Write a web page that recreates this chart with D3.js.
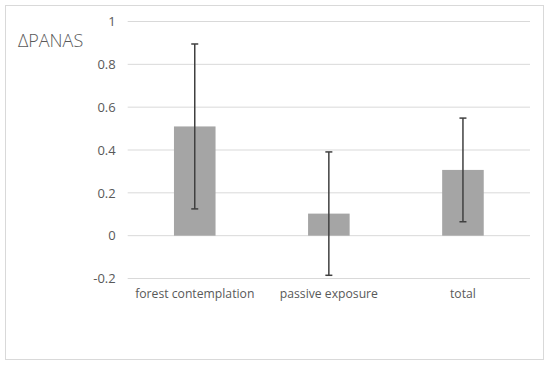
<!DOCTYPE html>
<html>
<head>
<meta charset="utf-8">
<script src="https://cdn.jsdelivr.net/npm/d3@7"></script>
<style>
body { margin: 0; background: #fff; }
svg text { font-family: "Open Sans", sans-serif; fill: #595959; }
</style>
</head>
<body>
<svg></svg>
<script>
// data
const categories = ['forest contemplation', 'passive exposure', 'total'];
const means = [0.51, 0.103, 0.307];
const errors = [0.385, 0.288, 0.242];
const yTicks = [-0.2, 0, 0.2, 0.4, 0.6, 0.8, 1];

const WIDTH = 550;
const HEIGHT = 365;
const MARGIN = { top: 21.5, right: 20, bottom: 86.5, left: 127.7 };

const svg = d3.select('svg')
.attr('width', WIDTH)
.attr('height', HEIGHT);

//border
svg.append('rect')
.attr('x', 5.5)
.attr('y', 5.5)
.attr('width', 538)
.attr('height', 354)
.attr('fill', 'none')
.attr('stroke', '#d9d9d9');

const chart = svg.append('g')
.attr('transform', `translate(${MARGIN.left}, ${MARGIN.top})`);

const innerW = 530 - MARGIN.left;
const innerH = HEIGHT - MARGIN.top - MARGIN.bottom;

//scales
const xScale = d3.scaleBand().domain(categories).range([0, innerW]);
const yScale = d3.scaleLinear().domain([-0.2, 1]).range([innerH, 0]);
const barW = xScale.bandwidth() * 0.31;

//gridlines
chart.selectAll('.grid')
.data(yTicks)
.enter()
.append('line')
.classed('grid', true)
.attr('x1', 0)
.attr('x2', innerW)
.attr('y1', d => yScale(d))
.attr('y2', d => yScale(d))
.attr('stroke', '#d9d9d9')
.attr('stroke-width', 1);

//y axis labels
const yAxis = chart.append('g')
.call(d3.axisLeft(yScale).tickValues(yTicks).tickSize(0).tickPadding(12)
  .tickFormat(d => String(+d.toFixed(1))));
yAxis.select('.domain').remove();
yAxis.selectAll('text').style('font-size', '13px').attr('fill', '#595959');

//bars
chart.selectAll('.bar')
.data(categories)
.enter()
.append('rect')
.classed('bar', true)
.attr('x', d => xScale(d) + (xScale.bandwidth() - barW) / 2)
.attr('width', barW)
.attr('y', (d, i) => yScale(Math.max(0, means[i])))
.attr('height', (d, i) => Math.abs(yScale(means[i]) - yScale(0)))
.attr('fill', '#a5a5a5');

//error bars
const err = chart.selectAll('.err')
.data(categories)
.enter()
.append('g')
.classed('err', true)
.attr('transform', d => `translate(${xScale(d) + xScale.bandwidth() / 2}, 0)`)
.attr('stroke', '#404040')
.attr('stroke-width', 1.5);

err.append('line')
.attr('y1', (d, i) => yScale(means[i] + errors[i]))
.attr('y2', (d, i) => yScale(means[i] - errors[i]));

err.append('line')
.attr('x1', -3.5).attr('x2', 3.5)
.attr('y1', (d, i) => yScale(means[i] + errors[i]))
.attr('y2', (d, i) => yScale(means[i] + errors[i]));

err.append('line')
.attr('x1', -3.5).attr('x2', 3.5)
.attr('y1', (d, i) => yScale(means[i] - errors[i]))
.attr('y2', (d, i) => yScale(means[i] - errors[i]));

//x axis labels
const xAxis = chart.append('g')
.attr('transform', `translate(0, ${innerH})`)
.call(d3.axisBottom(xScale).tickSize(0).tickPadding(11));
xAxis.select('.domain').remove();
xAxis.selectAll('text').style('font-size', '12.2px').attr('fill', '#595959');

//title
svg.append('text')
.attr('x', 18)
.attr('y', 47)
.style('font-size', '18px')
.style('font-weight', 300)
.text('ΔPANAS');
</script>
</body>
</html>
